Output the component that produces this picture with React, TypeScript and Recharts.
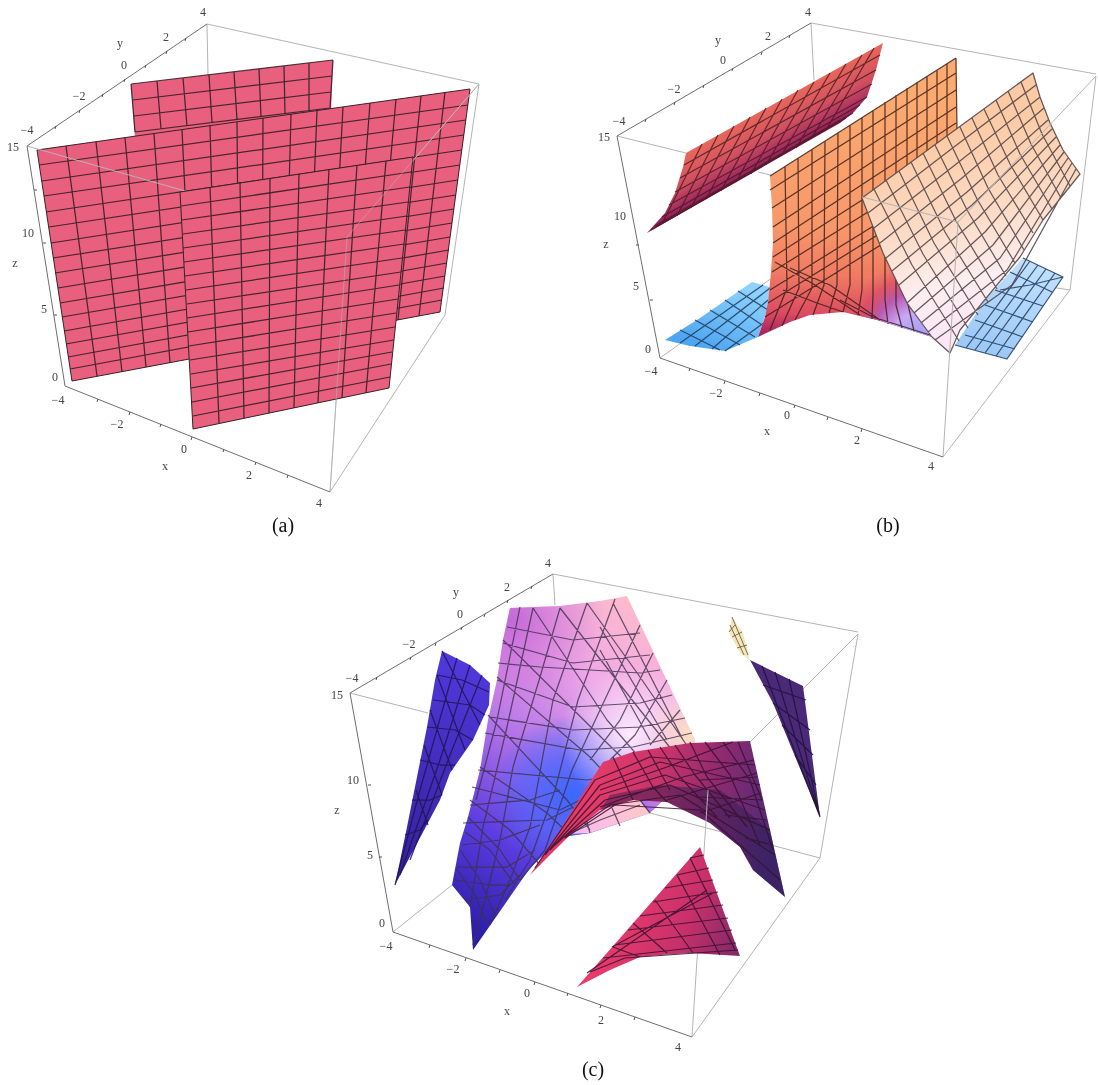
import React from 'react';
import { ScatterChart, Scatter, XAxis, YAxis } from 'recharts';

const SERIF = '"Liberation Serif", "Times New Roman", serif';

// ---------- panel (a) ----------
const aBackOutline = [131,84, 333,60, 331,114, 135,138];
const aBackMesh = [
  [131,84,135,132],[157,81,161,129],[183,78,187,126],[209,75,212,123],[234,72,237,120],[259,69,261,117],[284,66,285,114],[309,63,309,111],[333,60,330,108],
  [131,84,333,60],[133,100,332,76],[134,116,331,92],[135,132,330,108],
];
const aMidOutline = [37,150, 470,89, 440,312, 72,381];
const aMidMesh = [
  [66,146,97,376],[96,142,122,372],[125,138,146,367],[154,134,170,363],[182,130,193,358],[210,126,216,354],[237,122,239,350],[263,118,262,345],[291,114,285,341],[317,111,308,337],[343,107,331,332],[370,103,353,328],[396,99,376,324],[421,96,398,320],[445,92,419,316],
  [39,165,468,105],[42,181,466,120],[44,196,464,135],[46,212,462,150],[49,227,460,165],[51,243,458,180],[53,258,456,195],[55,273,454,209],[58,288,452,223],[60,303,450,237],[62,317,449,250],[64,331,447,263],[66,344,445,276],[68,357,444,288],[70,369,442,300],
];
const aFrontOutline = [180,192, 413,157, 389,388, 193,429];
const aFrontMesh = [
  [210,187,219,423],[240,182,244,418],[270,178,269,413],[299,174,294,408],[329,169,318,403],[357,165,342,398],[386,161,366,393],
  [181,206,411,172],[182,220,410,187],[183,234,408,202],[183,248,407,216],[184,262,405,230],[185,276,404,244],[186,290,402,258],[187,304,401,272],[187,318,399,285],[188,332,398,299],[189,346,396,313],[190,360,395,327],[191,374,394,340],[191,388,392,352],[192,402,391,364],[193,416,390,377],
];
const aBoxLight = [[207,24,479,84],[207,24,208,75],[479,84,445,315],[330,492,445,315],[27,146,347,237],[347,237,479,84],[347,237,330,492]];
const aBoxDark = [[27,146,207,24],[27,146,65,386],[65,386,330,492]];
const aTicks = [[80,110,79,113],[125,79,124,82],[167,51,166,54],[56,126,55,129],[103,94,102,97],[146,65,145,68],[186,38,185,41],[130,412,129,415],[192,437,191,440],[256,462,255,465],[98,399,97,402],[161,424,160,427],[224,449,223,452],[288,475,287,478],[43,243,46,243],[54,315,57,315],[34,190,37,190]];
const aLabels = [
  {x:203,y:12,t:'4'},{x:166,y:37,t:'2'},{x:120,y:43,t:'y'},{x:124,y:65,t:'0'},{x:79,y:96,t:'−2'},{x:27,y:130,t:'−4'},{x:13,y:147,t:'15'},{x:28,y:233,t:'10'},{x:15,y:263,t:'z'},{x:44,y:309,t:'5'},{x:55,y:377,t:'0'},{x:58,y:400,t:'−4'},{x:117,y:424,t:'−2'},{x:184,y:449,t:'0'},{x:165,y:466,t:'x'},{x:249,y:475,t:'2'},{x:319,y:503,t:'4'},
];

// ---------- panel (b) ----------
const bS1Outline = [686,153, 883,43, 876,70, 867,97, 853,113, 840,123, 647,233, 665,213, 675,193, 683,167];
const bS1Mesh = [
  [702,144,662,224],[718,135,677,216],[734,126,691,208],[750,117,706,199],[766,108,721,191],[782,99,736,182],[798,90,751,174],[814,82,766,165],[830,73,781,156],[846,64,796,148],[862,55,811,139],[874,48,826,130],
  [684,165,880,55],[680,178,876,70],[675,192,872,84],[669,205,867,97],[662,217,860,105],[655,226,853,113],[651,230,846,118],
];
const bS4Outline = [665,340, 700,318, 752,282, 773,288, 767,310, 758,337, 725,351, 690,346];
const bS4Mesh = [
  [680,330,720,350],[695,320,740,345],[710,310,755,337],[725,300,762,325],[738,291,768,310],
  [680,343,763,285],[695,346,770,288],[712,349,768,300],[725,351,765,322],
];
const bS5Outline = [1023,258, 1063,277, 1007,359, 955,345, 985,300];
const bS5Mesh = [
  [1030,261,966,348],[1038,265,975,350],[1046,269,985,353],[1055,273,996,356],
  [1010,272,1052,292],[995,290,1043,306],[985,305,1033,322],[975,320,1023,337],[965,335,1015,349],[1000,290,1030,285,1063,277],
  [1023,258,1063,277,1007,359,955,345],
];
const bS2Outline = [770,176, 956,58, 957,130, 900,230, 932,337, 877,320, 843,312, 810,315, 790,322, 758,337, 765,317, 768,303, 771,272, 773,243, 772,208];
const bS2Mesh = [
  [785,166,787,288,770,330],[798,158,799,288,782,326],[812,149,812,288,795,320],[825,141,824,285,813,315],[838,133,837,285,829,313],[850,125,850,285,843,312],[862,117,862,290,858,315],[873,110,873,295,872,319],[885,102,885,300,888,324],[896,95,896,305,902,328],[907,88,907,300,914,331],[917,82,917,240],[927,76,927,210],[937,70,937,190],[947,64,947,170],
  [770,190,956,73],[772,208,956,90],[773,227,956,107],[773,243,956,123],[773,257,956,140],[772,272,956,157],[770,290,956,175],[768,303,950,190],[765,317,945,205],
  [775,262,815,285,860,315],[790,268,830,285,880,320],[783,290,817,303,843,312],[840,300,873,317,930,335],
  [770,176,956,58],[956,58,957,130],
];
const bS3Outline = [862,198, 1033,73, 1040,97, 1050,123, 1063,150, 1080,174, 1043,220, 1020,257, 960,330, 950,353, 932,337, 907,303, 883,253];
const bS3Mesh = [
  [874,189,912,265,959,341],[886,180,923,254,968,328],[899,171,934,243,978,315],[911,162,945,232,988,302],[923,153,956,221,997,289],[935,145,967,210,1006,276],[947,136,977,199,1015,263],[960,127,988,188,1024,250],[972,118,998,175,1033,233],[984,109,1010,164,1043,220],[996,100,1020,154,1052,209],[1008,91,1031,144,1061,198],[1021,82,1042,134,1070,186],
  [868,213,950,150,1036,85],[874,228,955,165,1040,97],[880,243,962,178,1044,108],[886,258,967,192,1048,120],[892,271,972,205,1052,129],[899,285,978,218,1056,137],[907,303,985,232,1060,145],[914,313,993,245,1064,152],[921,323,1000,258,1068,158],[928,332,1007,270,1072,163],[935,340,1012,285,1076,169],
  [862,198,1033,73,1040,97,1050,123,1063,150,1080,174,1043,220,1020,257,960,330,950,353,932,337,907,303,883,253,862,198],
];
const bBoxBack = [[811,23,1096,74],[811,23,814,80],[660,358,811,250],[811,250,1070,290],[617,136,686,153],[758,172,862,197]];
const bBoxFront = [[1096,76,1070,290],[943,457,1070,290],[862,197,958,222],[958,222,1096,76],[958,222,943,457]];
const bBoxDark = [[617,136,811,23],[617,136,660,358],[660,358,943,457]];
const bTicks = [[646,119,645,122],[675,102,674,105],[704,85,703,88],[733,68,732,71],[762,52,761,55],[790,35,789,38],[725,381,724,384],[795,405,794,408],[862,429,861,432],[690,368,689,371],[760,393,759,396],[828,417,827,420],[636,245,639,245],[650,300,653,300]];
const bLabels = [
  {x:808,y:12,t:'4'},{x:768,y:36,t:'2'},{x:718,y:40,t:'y'},{x:723,y:60,t:'0'},{x:674,y:89,t:'−2'},{x:619,y:121,t:'−4'},{x:604,y:137,t:'15'},{x:620,y:216,t:'10'},{x:606,y:244,t:'z'},{x:636,y:286,t:'5'},{x:648,y:349,t:'0'},{x:651,y:371,t:'−4'},{x:716,y:393,t:'−2'},{x:787,y:415,t:'0'},{x:767,y:431,t:'x'},{x:857,y:440,t:'2'},{x:931,y:466,t:'4'},
];

// ---------- panel (c) ----------
const cS1Outline = [442,651, 470,665, 490,683, 489,705, 473,740, 450,773, 440,800, 395,885, 407,827, 427,727, 435,680];
const cS1Mesh = [
  [457,658,420,790,395,885],[470,665,440,760,400,875],[482,675,452,750,410,860],
  [437,675,462,680,489,692],[433,700,470,705,485,715],[427,727,455,730,473,740],[420,760,440,765,455,765],[412,800,430,800,442,795],[405,835,420,830,428,820],
  [442,651,480,725],[437,675,465,750],[430,710,452,770],[424,745,442,795],[416,790,428,825],
];
const cS2Outline = [510,608, 560,606, 600,601, 627,596, 695,740, 695,770, 650,813, 590,833, 562,837, 530,868, 473,950, 470,907, 452,885, 460,843, 468,817, 480,770, 488,720, 497,680, 503,640];
const cS2Under = [566,834, 590,833, 650,813, 636,795, 600,800, 572,825];
const cS2Mesh = [
  [533,608,507,727,483,827],[560,608,540,677,513,767,500,840],[587,603,553,700,530,827,510,880],[615,599,578,700,555,790,530,860],[640,625,600,710,572,770,545,850],[653,653,620,720,590,760],[667,680,635,735,610,760],[680,710,650,745],
  [520,607,497,720,476,800],[483,827,470,907],[500,840,485,900,473,945],[510,880,490,925],[530,860,505,900],[545,850,520,880],
  [533,608,607,720,650,770],[560,608,640,710,680,760],[587,603,640,677,690,750],[613,603,683,740],[600,627,667,740],[600,650,650,740],[503,640,607,743,640,775],[497,677,590,757,620,790],[488,715,567,800,590,830],[480,767,547,813,570,835],[468,817,500,850,520,880],[460,850,480,880,495,915],
  [470,800,510,830,540,865],[465,832,490,850,515,885],[456,868,475,895,488,925],
  [507,627,573,640,640,633],[503,643,573,663,650,655],[498,663,540,667,640,673,660,670],[497,680,573,707,640,703,672,695],[490,717,573,730,640,727,685,718],[485,733,580,750,633,747,692,733],[478,770,587,780,650,770],[472,787,560,810,600,790],[463,823,547,820,573,807],[457,867,507,867,535,850],[465,900,500,895,520,875],
  [455,880,490,885,510,885],[462,845,500,840,540,825],[470,805,530,800,560,790],
  [590,833,585,815],[620,826,612,808],[650,813,640,800],[562,837,600,820,640,805],
];
const cS3Outline = [530,875, 560,830, 585,790, 603,762, 633,752, 690,743, 750,741, 785,897, 753,870, 740,847, 710,823, 667,802, 633,800, 600,810, 570,835];
const cS3Band = [600,810, 633,800, 667,802, 710,823, 740,847, 753,870, 785,897, 770,830, 720,790, 660,785, 610,795];
const cS3Mesh = [
  [535,868,595,780,650,757,755,765],[545,855,600,785,660,762,760,785],[550,850,600,795,665,775,765,810],[555,845,605,800,670,785,770,830],[560,840,610,805,680,795,775,855],[565,838,615,805,700,810,780,880],
  [690,742,707,777,747,827],[723,742,750,780,773,850],[660,747,680,777,717,817],[633,752,653,787,667,802],[613,757,633,800],
  [648,750,670,790],[675,745,695,775,730,818],[705,742,730,775,760,845],[738,742,762,800],
  [600,790,667,767,733,742],[600,807,683,777,754,760],[667,800,757,773],[700,813,761,793],[700,780,757,777],[700,797,763,800],[725,815,767,820],[745,838,773,845],
];
const cS4Outline = [750,660, 803,686, 820,817, 773,703];
const cS4Mesh = [
  [762,666,820,817],[775,672,820,817],[789,679,820,817],
  [763,685,806,700],[773,703,810,730],[782,725,813,755],[795,755,816,785],
];
const cCreamOutline = [732,617, 729,632, 740,653, 750,660, 743,633];
const cCreamMesh = [[732,617,748,655],[730,625,744,655],[735,625,729,632],[732,637,742,632],[737,648,747,645]];
const cS5Outline = [700,847, 740,956, 690,953, 660,955, 640,957, 610,970, 577,987];
const cS5Mesh = [
  [690,858,704,855],[677,875,709,868],[665,888,713,880],[653,902,718,892],[640,916,723,905],[628,930,728,918],[615,945,732,930],[603,958,736,943],[590,972,625,958,738,950],
  [677,875,720,955],[655,900,693,953],[633,923,667,953],[613,947,640,957],[690,858,735,950],[612,947,713,893],[587,973,707,890],
];
const cBoxLight = [[553,574,858,632],[553,574,555,605],[858,634,820,858],[692,1037,820,858],[393,932,452,885],[650,813,820,858],[350,693,428,713],[708,790,692,1037],[750,742,858,634]];
const cBoxDark = [[350,693,553,574],[350,693,393,932],[393,932,692,1037]];
const cTicks = [[411,657,410,660],[462,627,461,630],[508,600,507,603],[377,677,376,680],[436,643,435,646],[485,614,484,617],[532,586,531,589],[466,958,465,961],[535,982,534,985],[601,1005,600,1008],[430,945,429,948],[500,970,499,973],[568,993,567,996],[635,1017,634,1020],[368,785,371,785],[379,857,382,857]];
const cLabels = [
  {x:548,y:563,t:'4'},{x:507,y:587,t:'2'},{x:456,y:592,t:'y'},{x:460,y:614,t:'0'},{x:409,y:644,t:'−2'},{x:352,y:678,t:'−4'},{x:337,y:695,t:'15'},{x:353,y:780,t:'10'},{x:337,y:810,t:'z'},{x:370,y:855,t:'5'},{x:382,y:923,t:'0'},{x:386,y:946,t:'−4'},{x:453,y:969,t:'−2'},{x:527,y:993,t:'0'},{x:507,y:1011,t:'x'},{x:601,y:1020,t:'2'},{x:678,y:1047,t:'4'},
];
const captions = [{x:283,y:525,t:'(a)'},{x:888,y:525,t:'(b)'},{x:593,y:1069,t:'(c)'}];

// ---------- helpers ----------
const pairs = (f: number[]) => {
  const r: { x: number; y: number }[] = [];
  for (let i = 0; i + 1 < f.length; i += 2) r.push({ x: f[i], y: f[i + 1] });
  return r;
};
const noDot = () => <g />;
let seq = 0;

const poly = (pts: number[], fill: string, extra: any = {}) => (
  <Scatter
    key={`p${seq++}`}
    data={pairs(pts)}
    isAnimationActive={false}
    shape={noDot}
    line={(lp: any) => (
      <path
        d={lp.points.map((q: any, i: number) => `${i ? 'L' : 'M'}${q.x} ${q.y}`).join('') + 'Z'}
        fill={fill}
        stroke="none"
        {...extra}
      />
    )}
  />
);

const mesh = (lines: number[][], stroke: string, width = 1, opacity = 1) => {
  const counts = lines.map((l) => l.length / 2);
  return (
    <Scatter
      key={`m${seq++}`}
      data={lines.flatMap(pairs)}
      isAnimationActive={false}
      shape={noDot}
      line={(lp: any) => {
        let d = '';
        let k = 0;
        counts.forEach((c) => {
          for (let i = 0; i < c; i++) {
            const q = lp.points[k++];
            d += `${i ? 'L' : 'M'}${q.x} ${q.y}`;
          }
        });
        return <path d={d} fill="none" stroke={stroke} strokeWidth={width} strokeOpacity={opacity} strokeLinejoin="round" />;
      }}
    />
  );
};

const labels = (rows: { x: number; y: number; t: string }[], size: number, color: string) => (
  <Scatter
    key={`l${seq++}`}
    data={rows}
    isAnimationActive={false}
    shape={(p: any) => (
      <text x={p.cx} y={p.cy} textAnchor="middle" dominantBaseline="central" fontFamily={SERIF} fontSize={size} fill={color}>
        {p.payload.t}
      </text>
    )}
  />
);

const LIGHT = '#b4b4b4';
const DARK = '#6e6e6e';
const W = 1.25;

export default function App() {
  seq = 0;
  return (
    <div style={{ position: 'absolute', left: 0, top: 0, width: 1098, height: 1085, background: '#fff', filter: 'blur(0.35px)' }}>
      <ScatterChart width={1098} height={1085} margin={{ top: 0, right: 0, bottom: 0, left: 0 }}>
        <defs>
          <linearGradient id="bS1" gradientUnits="userSpaceOnUse" x1="770" y1="106" x2="795" y2="150">
            <stop offset="0" stopColor="#e8685c" /><stop offset="0.5" stopColor="#d05060" /><stop offset="0.8" stopColor="#aa3060" /><stop offset="1" stopColor="#801a58" />
          </linearGradient>
          <linearGradient id="bS2" gradientUnits="userSpaceOnUse" x1="860" y1="100" x2="850" y2="335">
            <stop offset="0" stopColor="#fbaa70" /><stop offset="0.55" stopColor="#f8976a" /><stop offset="0.75" stopColor="#f07a62" /><stop offset="0.92" stopColor="#dc4a62" /><stop offset="1" stopColor="#a82860" />
          </linearGradient>
          <radialGradient id="bS2p" gradientUnits="userSpaceOnUse" cx="920" cy="340" r="80">
            <stop offset="0" stopColor="#98a0f8" /><stop offset="0.35" stopColor="#c8a8f8" /><stop offset="0.6" stopColor="#b85ab0" /><stop offset="0.8" stopColor="#d84868" stopOpacity="0.6" /><stop offset="1" stopColor="#e06070" stopOpacity="0" />
          </radialGradient>
          <linearGradient id="bS3" gradientUnits="userSpaceOnUse" x1="950" y1="130" x2="1000" y2="310">
            <stop offset="0" stopColor="#fccaa4" /><stop offset="0.5" stopColor="#fcdcc8" /><stop offset="0.8" stopColor="#fdeef0" /><stop offset="1" stopColor="#fbe8f4" />
          </linearGradient>
          <linearGradient id="bS4" gradientUnits="userSpaceOnUse" x1="740" y1="285" x2="710" y2="350">
            <stop offset="0" stopColor="#8ed2ff" /><stop offset="1" stopColor="#4ea6f0" />
          </linearGradient>
          <linearGradient id="bS5" gradientUnits="userSpaceOnUse" x1="1030" y1="260" x2="990" y2="355">
            <stop offset="0" stopColor="#c0e0ff" /><stop offset="1" stopColor="#9cc8f6" />
          </linearGradient>
          <linearGradient id="cS1" gradientUnits="userSpaceOnUse" x1="460" y1="660" x2="400" y2="880">
            <stop offset="0" stopColor="#5038dc" /><stop offset="1" stopColor="#35209a" />
          </linearGradient>
          <linearGradient id="cS2" gradientUnits="userSpaceOnUse" x1="470" y1="930" x2="660" y2="610">
            <stop offset="0" stopColor="#2c1ea8" /><stop offset="0.25" stopColor="#5a3ce0" /><stop offset="0.5" stopColor="#b070e8" /><stop offset="0.75" stopColor="#f0a8e8" /><stop offset="1" stopColor="#ffbcc8" />
          </linearGradient>
          <radialGradient id="cS2blue" gradientUnits="userSpaceOnUse" cx="572" cy="795" r="80">
            <stop offset="0" stopColor="#3a68ff" /><stop offset="0.5" stopColor="#4a68ff" stopOpacity="0.7" /><stop offset="1" stopColor="#3a68ff" stopOpacity="0" />
          </radialGradient>
          <radialGradient id="cS2white" gradientUnits="userSpaceOnUse" cx="630" cy="735" r="70">
            <stop offset="0" stopColor="#fff0ff" stopOpacity="0.95" /><stop offset="1" stopColor="#fff0ff" stopOpacity="0" />
          </radialGradient>
          <radialGradient id="cS2peach" gradientUnits="userSpaceOnUse" cx="690" cy="735" r="45">
            <stop offset="0" stopColor="#fde0c0" /><stop offset="1" stopColor="#fde0c0" stopOpacity="0" />
          </radialGradient>
          <radialGradient id="cS2orchid" gradientUnits="userSpaceOnUse" cx="510" cy="620" r="95">
            <stop offset="0" stopColor="#c468d8" /><stop offset="1" stopColor="#c468d8" stopOpacity="0" />
          </radialGradient>
          <linearGradient id="cS2u" gradientUnits="userSpaceOnUse" x1="570" y1="830" x2="650" y2="810">
            <stop offset="0" stopColor="#fcb8f0" /><stop offset="1" stopColor="#fdc8c8" />
          </linearGradient>
          <linearGradient id="cS3" gradientUnits="userSpaceOnUse" x1="590" y1="790" x2="775" y2="830">
            <stop offset="0" stopColor="#e43c68" /><stop offset="0.35" stopColor="#c8346a" /><stop offset="0.65" stopColor="#8e2a70" /><stop offset="1" stopColor="#4a2a78" />
          </linearGradient>
          <linearGradient id="cS5" gradientUnits="userSpaceOnUse" x1="620" y1="900" x2="740" y2="950">
            <stop offset="0" stopColor="#e83c6c" /><stop offset="0.55" stopColor="#c8306a" /><stop offset="1" stopColor="#7e2a68" />
          </linearGradient>
        </defs>
        <XAxis type="number" dataKey="x" domain={[0, 1098]} hide allowDataOverflow />
        <YAxis type="number" dataKey="y" domain={[0, 1085]} reversed hide allowDataOverflow width={0} />

        {/* panel a */}
        {mesh(aBoxLight.slice(0, 2), LIGHT)}
        {poly(aBackOutline, '#e8607e')}
        {mesh(aBackMesh, '#2a1a20', W, 0.85)}
        {poly(aMidOutline, '#e8607e', { stroke: '#3a2028', strokeWidth: 1 })}
        {mesh(aMidMesh, '#2a1a20', W, 0.85)}
        {mesh(aBoxLight.slice(4), LIGHT)}
        {poly(aFrontOutline, '#e8607e', { stroke: '#3a2028', strokeWidth: 1 })}
        {mesh(aFrontMesh, '#2a1a20', W, 0.85)}
        {mesh(aBoxLight.slice(2, 4), LIGHT)}
        {mesh([aBoxLight[6], aBoxLight[5].slice(0, 4)], LIGHT, 1, 0.55)}
        {mesh(aBoxDark, DARK)}
        {mesh(aTicks, '#555')}
        {labels(aLabels, 12, '#444')}

        {/* panel b */}
        {mesh(bBoxBack, LIGHT)}
        {poly(bS1Outline, 'url(#bS1)')}
        {mesh(bS1Mesh, '#4a1820', W, 0.8)}
        {poly(bS4Outline, 'url(#bS4)')}
        {mesh(bS4Mesh, '#1e3a5a', W, 0.85)}
        {poly(bS5Outline, 'url(#bS5)')}
        {mesh(bS5Mesh, '#1e3a5a', W, 0.85)}
        {poly(bS2Outline, 'url(#bS2)')}
        {poly(bS2Outline, 'url(#bS2p)')}
        {mesh(bS2Mesh, '#3e2018', W, 0.85)}
        {poly(bS3Outline, 'url(#bS3)')}
        {mesh(bS3Mesh, '#54484a', W, 0.9)}
        {mesh(bBoxFront, LIGHT)}
        {mesh(bBoxDark, DARK)}
        {mesh(bTicks, '#555')}
        {labels(bLabels, 12, '#444')}

        {/* panel c */}
        {mesh(cBoxLight.slice(0, 2), LIGHT)}
        {mesh(cBoxLight.slice(4, 5), LIGHT)}
        {mesh(cBoxLight.slice(6, 7), LIGHT)}
        {poly(cS1Outline, 'url(#cS1)')}
        {mesh(cS1Mesh, '#1e1450', W, 0.85)}
        {mesh(cBoxLight.slice(8), LIGHT)}
        {mesh(cBoxLight.slice(5, 6), LIGHT)}
        {poly(cS2Outline, 'url(#cS2)')}
        {poly(cS2Outline, 'url(#cS2orchid)')}
        {poly(cS2Outline, 'url(#cS2blue)')}
        {poly(cS2Outline, 'url(#cS2white)')}
        {poly(cS2Outline, 'url(#cS2peach)')}
        {poly(cS2Under, 'url(#cS2u)')}
        {mesh(cS2Mesh, '#3e304c', W, 0.8)}
        {poly(cS4Outline, '#4a2a78')}
        {mesh(cS4Mesh, '#20103a', W, 0.85)}
        {poly(cCreamOutline, '#f5e8b8')}
        {mesh(cCreamMesh, '#5a5040', 1, 0.8)}
        {poly(cS3Outline, 'url(#cS3)')}
        {poly(cS3Band, '#2a1a50', { fillOpacity: 0.45 })}
        {mesh(cS3Mesh, '#3a1030', W, 0.85)}
        {mesh(cBoxLight.slice(7, 8), LIGHT)}
        {poly(cS5Outline, 'url(#cS5)')}
        {mesh(cS5Mesh, '#3a1030', W, 0.85)}
        {mesh(cBoxLight.slice(2, 4), LIGHT)}
        {mesh(cBoxDark, DARK)}
        {mesh(cTicks, '#555')}
        {labels(cLabels, 12, '#444')}

        {labels(captions, 20, '#111')}
      </ScatterChart>
    </div>
  );
}
